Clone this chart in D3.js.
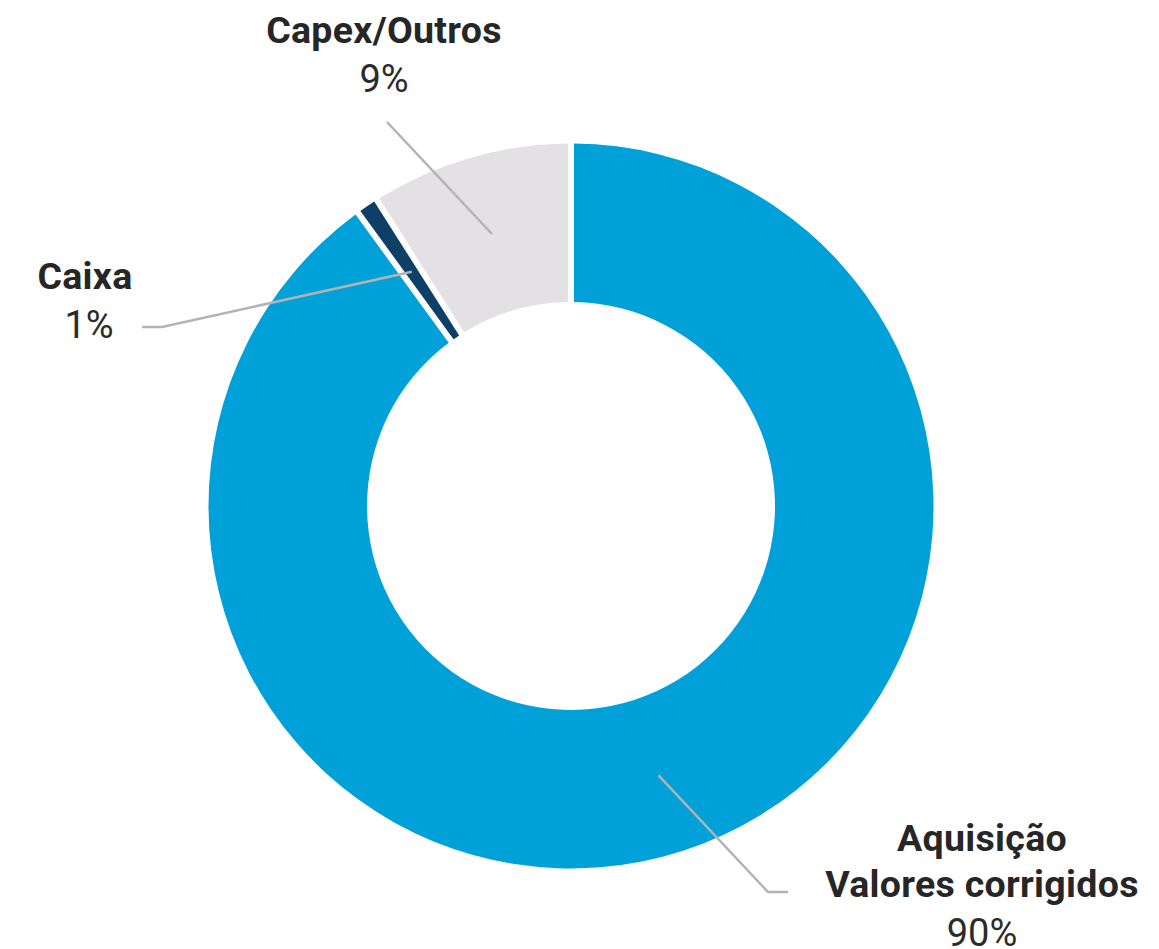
<!DOCTYPE html>
<html>
<head>
<meta charset="utf-8">
<script src="https://cdn.jsdelivr.net/npm/d3@7"></script>
<style>
  html, body { margin: 0; padding: 0; background: #fff; }
  svg { display: block; }
</style>
</head>
<body>
<svg id="chart" width="1159" height="949"></svg>
<script>
// Fund allocation breakdown
const categories = ["Aquisição\nValores corrigidos", "Caixa", "Capex/Outros"];
const values = [90, 1, 9];
const valueLabels = ["90%", "1%", "9%"];
const colors = ["#00A0D8", "#0E3F66", "#E3E1E3"];

const width = 1159, height = 949;
const cx = 571, cy = 506;
const outerR = 362.5, innerR = 204;

// label placement: text anchor point + leader elbow/end
const labelLayout = [
  { x: 982, y: 851, elbow: [768, 892], end: [788, 892] },
  { x: 85,  y: 289, elbow: [162, 327], end: [142, 327], valueDx: 4 },
  { x: 384, y: 43,  elbow: null,       end: [387, 122] }
];

const svg = d3.select("#chart");
const g = svg.append("g").attr("transform", `translate(${cx},${cy})`);

const data = categories.map((c, i) => ({ name: c, value: values[i], label: valueLabels[i], color: colors[i], layout: labelLayout[i] }));

const pie = d3.pie().sort(null).value(d => d.value);
const arc = d3.arc()
  .innerRadius(innerR)
  .outerRadius(outerR)
  .padAngle(6 / outerR)
  .padRadius(outerR);
const midArc = d3.arc().innerRadius(innerR).outerRadius(outerR);

const arcs = pie(data);

g.selectAll("path.slice")
  .data(arcs)
  .join("path")
  .attr("class", "slice")
  .attr("d", arc)
  .attr("fill", d => d.data.color);

// leader lines
const lineGen = d3.line();
svg.append("g")
  .selectAll("path.leader")
  .data(arcs)
  .join("path")
  .attr("class", "leader")
  .attr("fill", "none")
  .attr("stroke", "#b3b3b3")
  .attr("stroke-width", 2.5)
  .attr("d", d => {
    const [mx, my] = midArc.centroid(d);
    const pts = [[cx + mx, cy + my]];
    const L = d.data.layout;
    if (L.elbow) pts.push(L.elbow);
    pts.push(L.end);
    return lineGen(pts);
  });

// text labels
const font = "Roboto, 'Noto Sans', sans-serif";
const labels = svg.append("g");
data.forEach(d => {
  const L = d.layout;
  const lines = d.name.split("\n");
  lines.forEach((line, j) => {
    labels.append("text")
      .attr("x", L.x)
      .attr("y", L.y + j * 45.5)
      .attr("text-anchor", "middle")
      .attr("font-family", font)
      .attr("font-weight", 700)
      .attr("font-size", 37.5)
      .attr("letter-spacing", 0.3)
      .attr("fill", "#262626")
      .text(line);
  });
  labels.append("text")
    .attr("x", L.x + (L.valueDx || 0))
    .attr("y", L.y + (lines.length - 1) * 45.5 + 49)
    .attr("text-anchor", "middle")
    .attr("font-family", font)
    .attr("font-weight", 400)
    .attr("font-size", 38)
    .attr("fill", "#2b2b2b")
    .text(d.label);
});
</script>
</body>
</html>
